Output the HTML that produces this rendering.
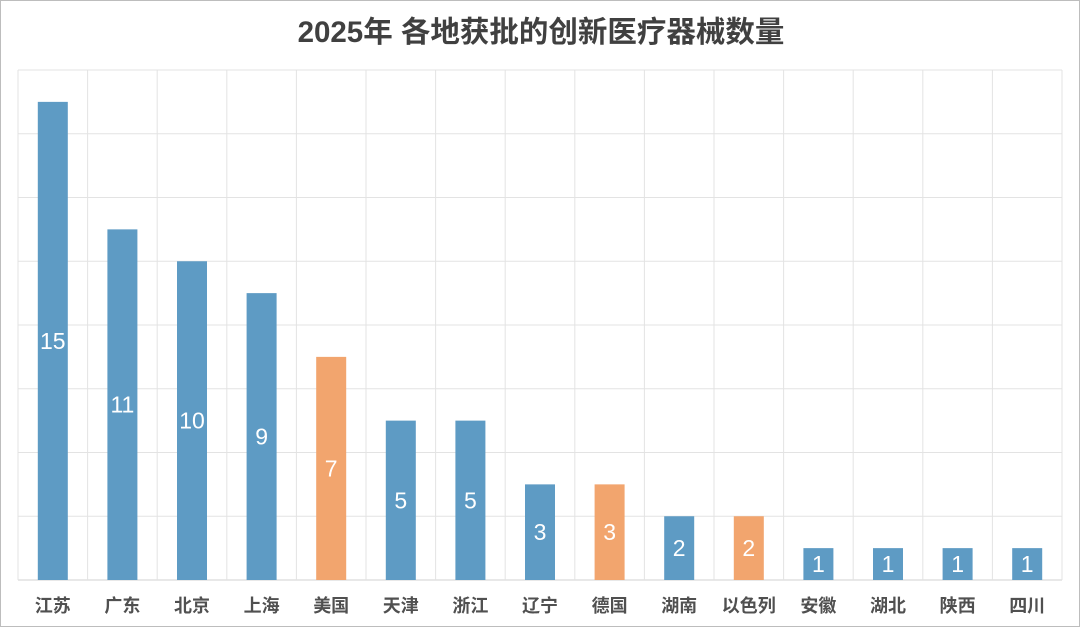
<!DOCTYPE html>
<html><head><meta charset="utf-8"><style>
html,body{margin:0;padding:0;background:#fff}
#wrap{position:relative;width:1078px;height:625px;border:1px solid #bdbdbd;background:#fff;overflow:hidden}
svg text{font-family:"Liberation Sans","Noto Sans CJK SC",sans-serif}
</style></head><body>
<div id="wrap">
<svg id="chart" width="1078" height="625">
<text x="540" y="41" text-anchor="middle" font-size="29.5" font-weight="bold" fill="#404040">2025年 各地获批的创新医疗器械数量</text>
</svg>
</div>
<script>
const categories=["江苏","广东","北京","上海","美国","天津","浙江","辽宁","德国","湖南","以色列","安徽","湖北","陕西","四川"];
const values=[15,11,10,9,7,5,5,3,3,2,2,1,1,1,1];
const isForeign=[0,0,0,0,1,0,0,0,1,0,1,0,0,0,0];
const yTicks=[0,2,4,6,8,10,12,14,16];
const svg=document.getElementById('chart');
const NS='http://www.w3.org/2000/svg';
const L=17,R=1061,T=69,B=579,yMax=16;
const bw=(R-L)/categories.length;
const y=v=>B-(v/yMax)*(B-T);
const x=i=>L+i*bw;
function mk(t,a){const e=document.createElementNS(NS,t);for(const k in a)e.setAttribute(k,a[k]);svg.appendChild(e);return e;}
yTicks.forEach(v=>{
  const l=mk('line',{x1:L,x2:R,y1:y(v),y2:y(v),stroke:v===0?'#d0d0d0':'#e3e3e3','stroke-width':1});
  
  
});
for(let i=0;i<=categories.length;i++){
  const l=mk('line',{x1:x(i),x2:x(i),y1:T,y2:B,stroke:'#e3e3e3','stroke-width':1});
  
  
}
categories.forEach((c,i)=>{
  const cx=x(i)+bw/2,v=values[i];
  const r=mk('rect',{x:cx-15,y:y(v),width:30,height:B-y(v),fill:isForeign[i]?'#f2a56e':'#5e9bc4'});
  
  
  const t=mk('text',{x:cx,y:(y(v)+B)/2+8,'text-anchor':'middle','font-size':23,fill:'#fff'});
  t.textContent=v;
  
  
  const lb=mk('text',{x:cx,y:611,'text-anchor':'middle','font-size':18,'font-weight':'bold',fill:'#505050'});
  lb.textContent=c;
  
  
});
</script>
</body></html>
